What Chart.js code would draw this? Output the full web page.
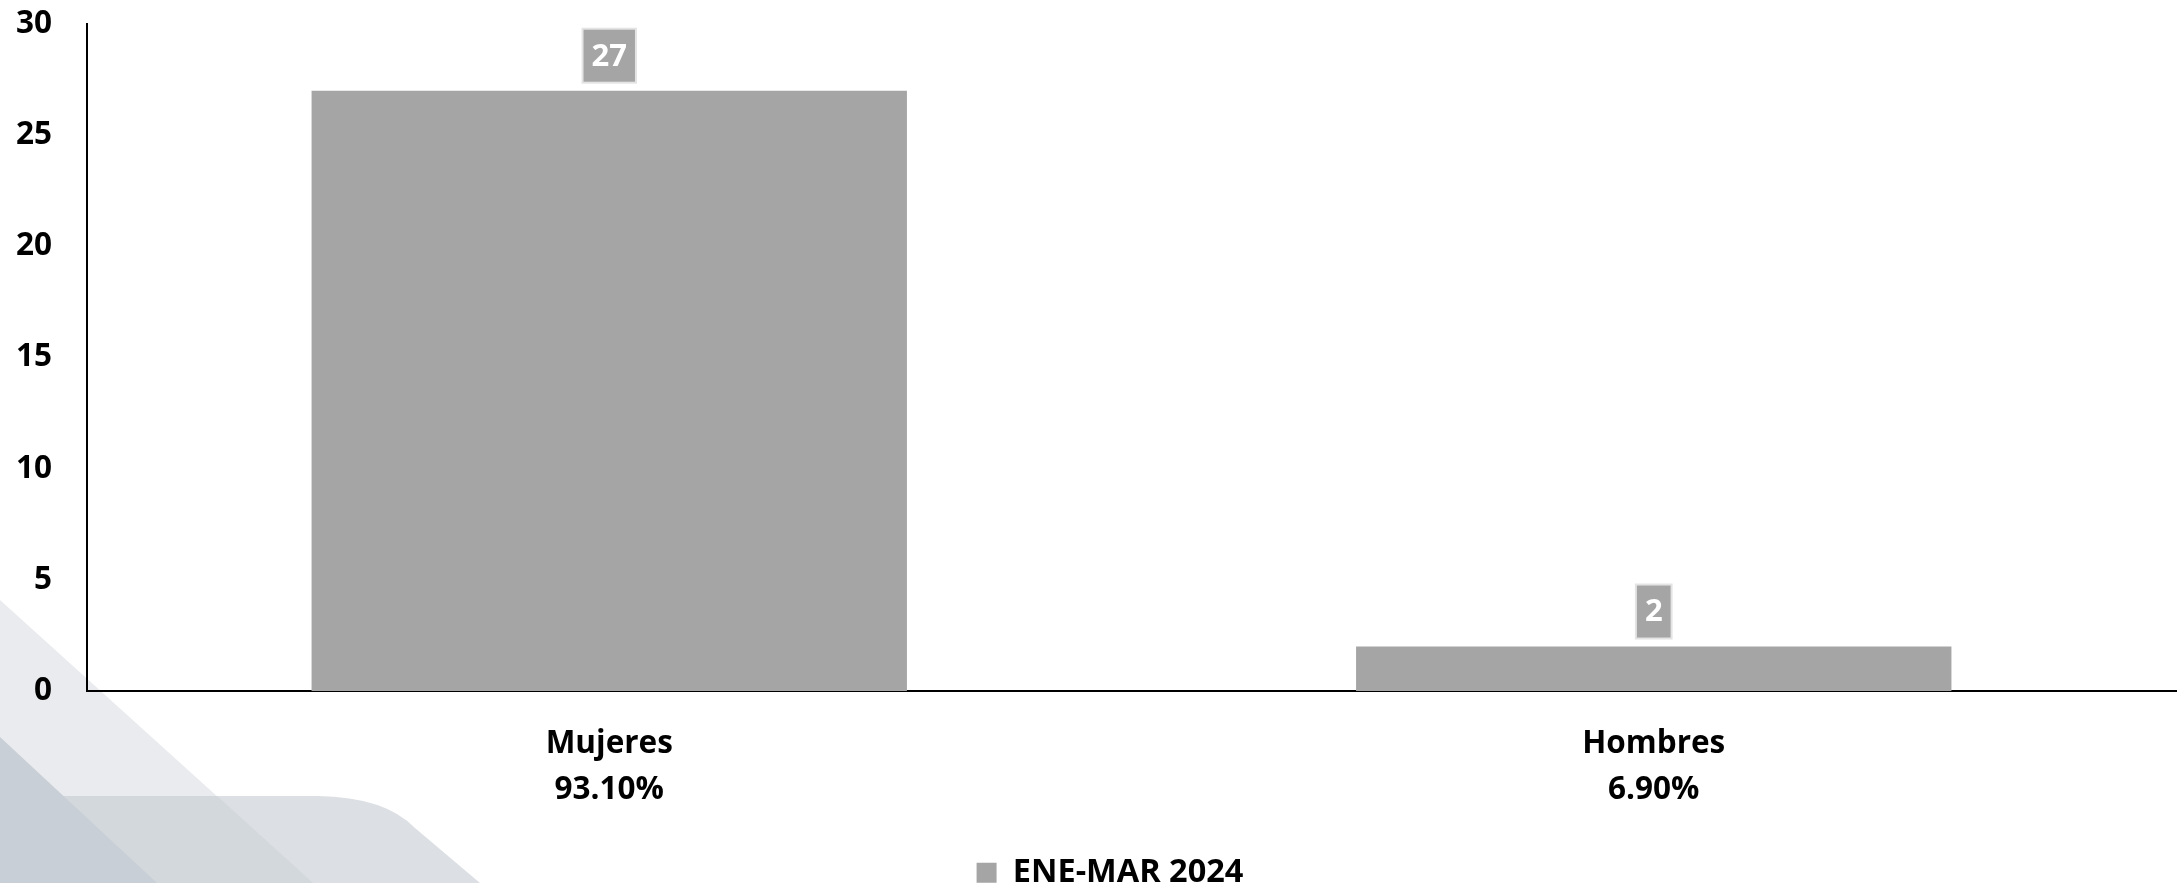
<!DOCTYPE html>
<html>
<head>
<meta charset="utf-8">
<script src="https://cdn.jsdelivr.net/npm/chart.js@4.4.0/dist/chart.umd.min.js"></script>
<style>
	html, body { margin: 0; padding: 0; background: #ffffff; }
	#wrap { width: 2182px; height: 883px; position: relative; }
</style>
</head>
<body>
<div id="wrap"><canvas id="chart"></canvas></div>
<script>
const categories = [['Mujeres', '93.10%'], ['Hombres', '6.90%']];
const seriesName = 'ENE-MAR 2024';
const values = [27, 2];
const yTicks = [0, 5, 10, 15, 20, 25, 30];

const FONT = '"Open Sans", Lato, sans-serif';
const BAR = '#a5a5a5';
const PLOT_BOTTOM = 691;
const PAD_BOTTOM = -16;
const LEGEND_SHIFT = 22;

// background shapes in the lower left corner
const backdropPlugin = {
	id: 'backdrop',
	beforeDraw(chart) {
		const ctx = chart.ctx;
		const h = chart.height;
		const poly = (color, pts) => {
			ctx.fillStyle = color;
			ctx.beginPath();
			ctx.moveTo(pts[0][0], pts[0][1]);
			pts.slice(1).forEach(p => ctx.lineTo(p[0], p[1]));
			ctx.closePath();
			ctx.fill();
		};
		ctx.save();
		// light diagonal stripe
		poly('#e9ebee', [[0, 600], [313, h], [0, h]]);
		// band with rounded shoulder
		ctx.fillStyle = '#dcdfe3';
		ctx.beginPath();
		ctx.moveTo(0, 796);
		ctx.lineTo(318, 796);
		ctx.quadraticCurveTo(385, 797, 415, 828);
		ctx.lineTo(480, h);
		ctx.lineTo(0, h);
		ctx.closePath();
		ctx.fill();
		// overlap of stripe and band
		poly('#d3d8dd', [[0, 796], [217, 796], [313, h], [0, h]]);
		// darkest corner
		poly('#c9cfd6', [[0, 737], [157, h], [0, h]]);
		ctx.restore();
	}
};

// nudge the legend a little to the right
const legendShiftPlugin = {
	id: 'legendShift',
	afterLayout(chart) {
		if (chart.legend) {
			chart.legend.left += LEGEND_SHIFT;
			chart.legend.right += LEGEND_SHIFT;
		}
	}
};

// value boxes above each bar
const valueBoxPlugin = {
	id: 'valueBox',
	afterDatasetsDraw(chart) {
		const ctx = chart.ctx;
		const meta = chart.getDatasetMeta(0);
		ctx.save();
		ctx.font = 'bold 31px ' + FONT;
		ctx.textAlign = 'center';
		ctx.textBaseline = 'middle';
		meta.data.forEach((bar, i) => {
			const text = String(values[i]);
			const w = ctx.measureText(text).width + 18;
			const hgt = 54;
			const x = bar.x - w / 2;
			const y = bar.y - 8 - hgt;
			ctx.fillStyle = BAR;
			ctx.fillRect(x, y, w, hgt);
			ctx.strokeStyle = '#e4e4e4';
			ctx.lineWidth = 2;
			ctx.strokeRect(x, y, w, hgt);
			ctx.fillStyle = '#ffffff';
			ctx.fillText(text, bar.x, y + hgt / 2 + 1);
		});
		ctx.restore();
	}
};

new Chart(document.getElementById('chart'), {
	type: 'bar',
	data: {
		labels: categories,
		datasets: [{
			label: seriesName,
			data: values,
			backgroundColor: BAR,
			borderWidth: 0,
			barPercentage: 0.57,
			categoryPercentage: 1
		}]
	},
	options: {
		responsive: true,
		maintainAspectRatio: false,
		animation: false,
		layout: { padding: { top: 24, right: 6, left: 0, bottom: PAD_BOTTOM } },
		plugins: {
			legend: {
				position: 'bottom',
				labels: {
					font: { family: FONT, size: 32.5, weight: 'bold', lineHeight: 0.6 },
					color: '#000000',
					boxWidth: 20,
					boxHeight: 20,
					padding: 0
				}
			},
			tooltip: { enabled: false }
		},
		scales: {
			x: {
				grid: { display: false, drawTicks: false },
				border: { color: '#000000', width: 2 },
				ticks: {
					color: '#000000',
					font: { family: FONT, size: 31.5, weight: 'bold', lineHeight: 1.43 },
					padding: 31,
					maxRotation: 0
				},
				afterFit(scale) {
					const lg = scale.chart.legend;
					scale.height = scale.chart.height - PLOT_BOTTOM - (lg ? lg.height : 0) - PAD_BOTTOM;
					scale.paddingLeft = 0;
					scale.paddingRight = 0;
				}
			},
			y: {
				min: 0,
				max: 30,
				grid: { display: false, drawTicks: false },
				border: { color: '#000000', width: 2 },
				afterBuildTicks(scale) { scale.ticks = yTicks.map(v => ({ value: v })); },
				ticks: {
					color: '#000000',
					font: { family: FONT, size: 31.5, weight: 'bold' },
					padding: 35
				},
				afterFit(scale) {
					scale.width = 87;
					scale.paddingTop = 0;
					scale.paddingBottom = 0;
				}
			}
		}
	},
	plugins: [backdropPlugin, legendShiftPlugin, valueBoxPlugin]
});
</script>
</body>
</html>
